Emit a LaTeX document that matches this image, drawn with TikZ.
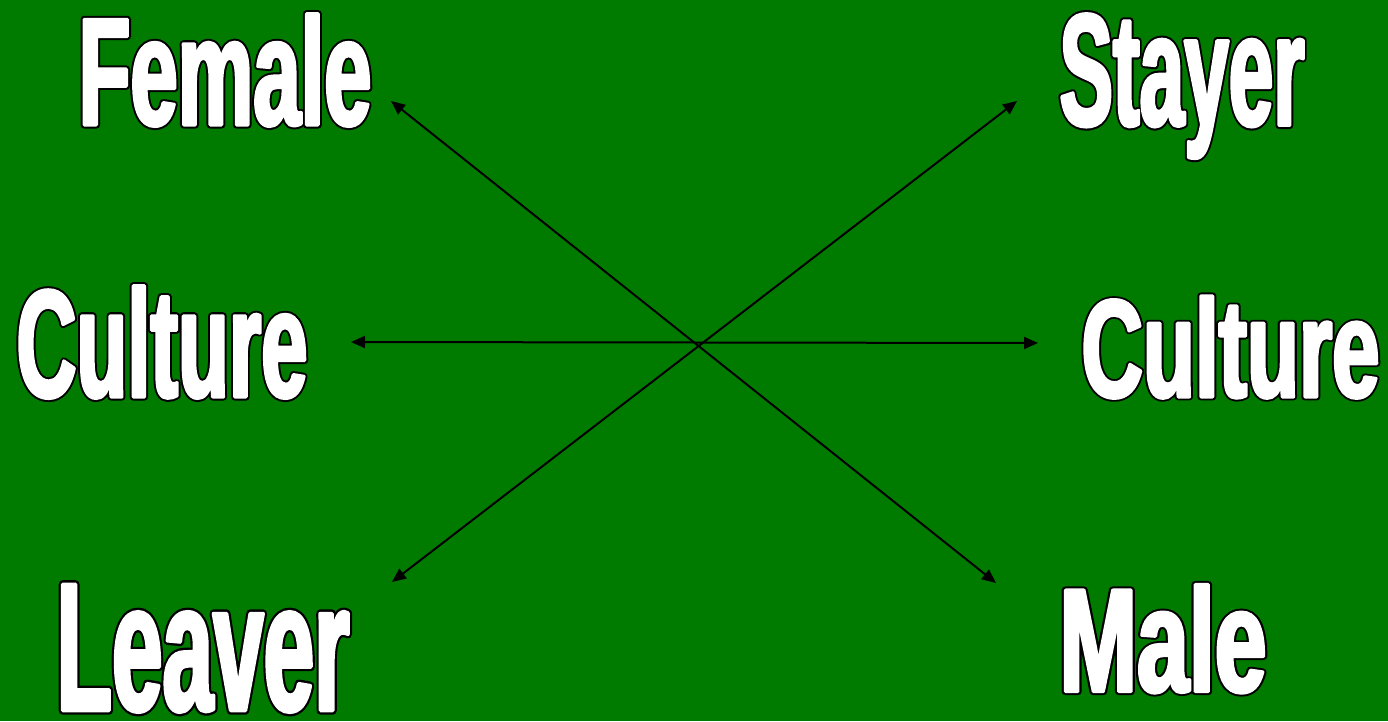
\documentclass[tikz,border=0pt]{standalone}
\usepackage{fontspec}
\setmainfont{Liberation Sans}
\newfontfamily\wordfont{Liberation Sans Bold}[FakeStretch=0.55]
\usepackage{graphicx}
\usetikzlibrary{arrows.meta}
\definecolor{bggreen}{RGB}{0,123,0}
\newcommand\outlword[1]{{\wordfont\fontsize{160pt}{160pt}\selectfont
  \rlap{\textcolor{black}{\special{pdf:literal direct 0 g 0 G 1 j 7.6 w 2 Tr}#1\special{pdf:literal direct 0 Tr}}}%
  \textcolor{white}{\special{pdf:literal direct 1 g 1 G 1 j 3.4 w 2 Tr}#1\special{pdf:literal direct 0 Tr}}}}
\newcommand\wordbox[3]{\resizebox*{#1pt}{#2pt}{\outlword{#3}}}
\tikzset{
  word/.style={anchor=north west, inner sep=0pt, outer sep=0pt},
  link/.style={draw=black, line width=2pt, {Triangle[length=14pt,width=12pt]}-{Triangle[length=14pt,width=12pt]}}
}
\begin{document}
\begin{tikzpicture}[x=1pt,y=1pt]
\fill[bggreen] (0,0) rectangle (1388,721);
\useasboundingbox (0,0) rectangle (1388,721);
% words
\node[word] (Female) at (78.5,707.2) {\wordbox{293}{112.6}{Female}};
\node[word] (Stayer) at (1059.5,707.2) {\wordbox{245}{144.6}{Stayer}};
\node[word] (CultureL) at (16.5,435.2) {\wordbox{291}{112.6}{Culture}};
\node[word] (CultureR) at (1081.5,425.2) {\wordbox{298}{102.6}{Culture}};
\node[word] (Leaver) at (56.5,136.5) {\wordbox{293}{127.6}{Leaver}};
\node[word] (Male) at (1059.5,136.5) {\wordbox{207}{108.6}{Male}};
% arrow tips
\coordinate (tF) at (391,620);
\coordinate (tM) at (996,138);
\coordinate (tS) at (1017,620);
\coordinate (tL) at (392,139);
\coordinate (tCL) at (351,379);
\coordinate (tCR) at (1038,378);
\draw[link] (tF) -- (tM);
\draw[link] (tS) -- (tL);
\draw[link] (tCL) -- (tCR);
\end{tikzpicture}
\end{document}
